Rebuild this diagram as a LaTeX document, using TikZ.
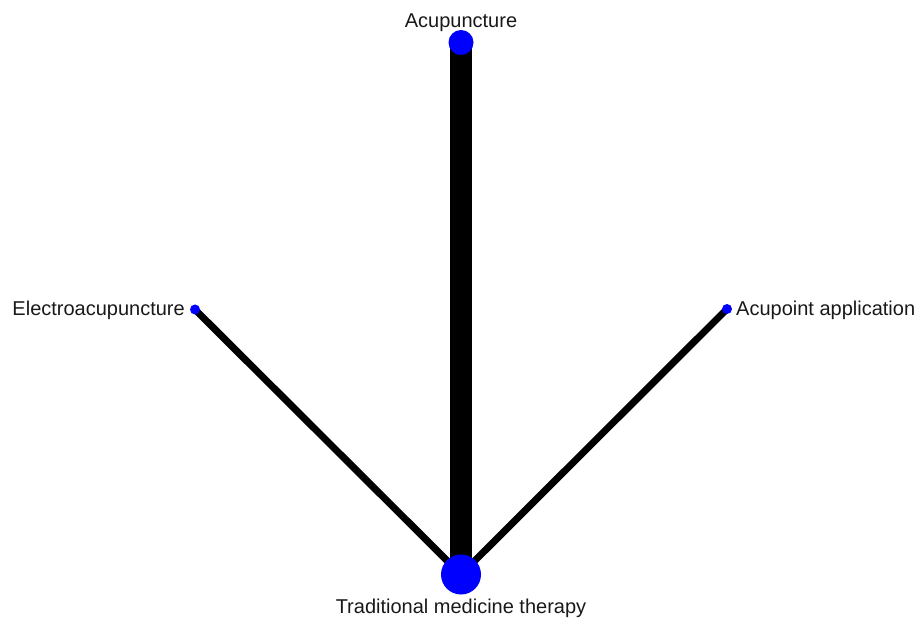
\documentclass[tikz,border=0pt]{standalone}
\usepackage{fontspec}
\setmainfont{Liberation Sans}
\usetikzlibrary{backgrounds}
\begin{document}
\begin{tikzpicture}[x=1pt,y=-1pt,
  pt/.style={circle,fill=blue,draw=none,inner sep=0pt},
  lbl/.style={font=\fontsize{20}{24}\selectfont,inner sep=0pt,text=black!90},
  edge/.style={draw=black,line width=#1}]
\useasboundingbox (0,0) rectangle (919,620);
\node[pt,minimum size=25pt] (acu) at (461,42.5) {};
\node[pt,minimum size=10pt] (ele) at (195,309.5) {};
\node[pt,minimum size=10pt] (app) at (727,309) {};
\node[pt,minimum size=40pt] (tmt) at (461,574.5) {};
\node[lbl,anchor=base] (acuL) at (461,28) {Acupuncture};
\node[lbl,anchor=base east] (eleL) at (185,316) {Electroacupuncture};
\node[lbl,anchor=base west] (appL) at (736,316) {Acupoint application};
\node[lbl,anchor=base] (tmtL) at (461,613) {Traditional medicine therapy};
\begin{scope}[on background layer]
\draw[edge=22pt] (acu.center) -- (tmt.center);
\draw[edge=7pt] (ele.center) -- (tmt.center);
\draw[edge=7pt] (app.center) -- (tmt.center);
\end{scope}
\end{tikzpicture}
\end{document}
